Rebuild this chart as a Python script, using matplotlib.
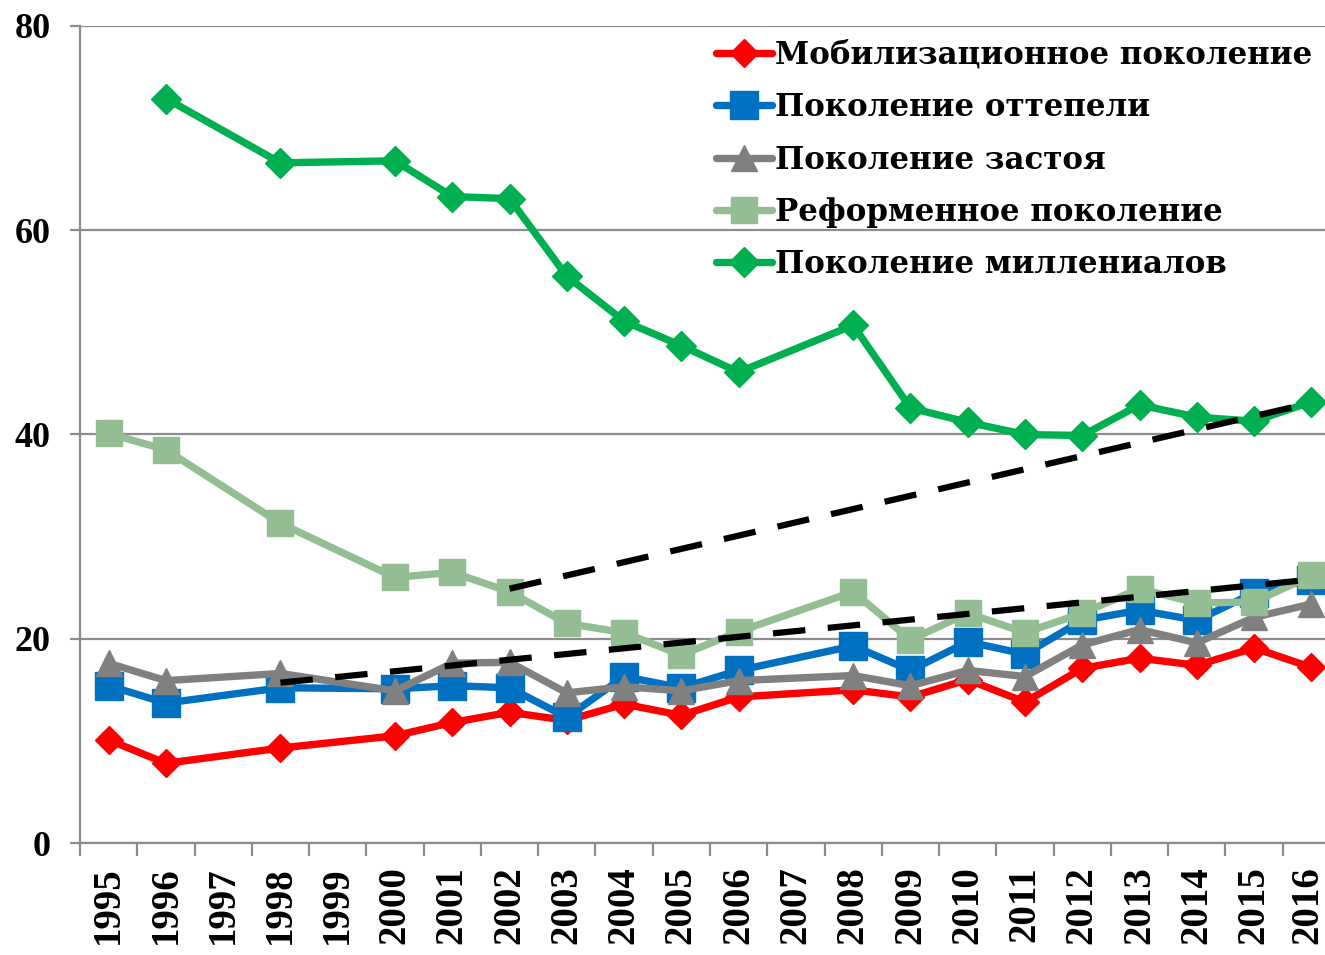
import matplotlib
matplotlib.use("Agg")
import matplotlib.pyplot as plt
import matplotlib.transforms as mtransforms
import numpy as np

categories = ["1995", "1996", "1997", "1998", "1999", "2000", "2001", "2002", "2003",
              "2004", "2005", "2006", "2007", "2008", "2009", "2010", "2011", "2012",
              "2013", "2014", "2015", "2016"]

data_years = ["1995", "1996", "1998", "2000", "2001", "2002", "2003", "2004", "2005",
              "2006", "2008", "2009", "2010", "2011", "2012", "2013", "2014", "2015", "2016"]

mobilization = [10.1, 7.8, 9.3, 10.5, 11.8, 12.8, 12.0, 13.6, 12.5, 14.3, 15.0, 14.3,
                16.0, 13.8, 17.1, 18.1, 17.4, 19.1, 17.2]
thaw = [15.4, 13.7, 15.2, 15.1, 15.4, 15.2, 12.3, 16.3, 15.2, 16.9, 19.3, 16.9,
        19.7, 18.5, 21.8, 22.8, 21.8, 24.5, 25.8]
stagnation = [17.6, 15.9, 16.6, 14.9, 17.6, 17.7, 14.7, 15.3, 14.9, 15.9, 16.4, 15.4,
              16.9, 16.3, 19.4, 20.9, 19.6, 22.1, 23.4]
reform = [40.1, 38.5, 31.3, 26.0, 26.5, 24.6, 21.5, 20.6, 18.4, 20.7, 24.6, 19.9,
          22.5, 20.6, 22.5, 24.9, 23.5, 23.6, 26.2]
millennials = [None, 72.9, 66.6, 66.8, 63.3, 63.1, 55.5, 51.1, 48.7, 46.1, 50.7, 42.6,
               41.2, 40.0, 39.9, 42.9, 41.7, 41.3, 43.2]

trend_upper_years = ["2002", "2016"]
trend_upper_values = [24.9, 43.1]
trend_lower_years = ["1998", "2016"]
trend_lower_values = [15.7, 25.8]

labels = ["Мобилизационное поколение", "Поколение оттепели", "Поколение застоя",
          "Реформенное поколение", "Поколение миллениалов"]

y_ticks = [0, 20, 40, 60, 80]

plt.rcParams['font.family'] = ['Liberation Serif', 'DejaVu Serif']
plt.rcParams['font.weight'] = 'bold'

fig = plt.figure(figsize=(13.25, 9.55), dpi=100)
ax = fig.add_axes([80 / 1325, 1 - 843 / 955, 1260 / 1325, (843 - 26) / 955])

def xs(years):
    return [categories.index(y) for y in years]

def clean(years, vals):
    pts = [(categories.index(y), v) for y, v in zip(years, vals) if v is not None]
    return [p[0] for p in pts], [p[1] for p in pts]

series = [
    (mobilization, "#FF0000", "D", 14, 1),
    (thaw, "#0070C0", "s", 19.5, 2),
    (stagnation, "#808080", "^", 19, 3),
    (reform, "#93BD93", "s", 19, 4),
    (millennials, "#00B050", "D", 15.5, 5),
]

handles = []
for (vals, col, mk, ms, z), lab in zip(series, labels):
    x, y = clean(data_years, vals)
    h, = ax.plot(x, y, color=col, lw=5.3, marker=mk, markersize=ms,
                 markerfacecolor=col, markeredgecolor=col, markeredgewidth=1,
                 solid_joinstyle='round', solid_capstyle='round', zorder=z, label=lab)
    handles.append(h)

for yrs, vals in [(trend_upper_years, trend_upper_values), (trend_lower_years, trend_lower_values)]:
    ax.plot(xs(yrs), vals, color="black", lw=4.5, dashes=(5.2, 3.6), zorder=6,
            dash_capstyle='butt')

ax.set_xlim(-0.5, len(categories) - 0.5)
ax.set_ylim(0, 80)
ax.set_yticks(y_ticks)
ax.set_yticklabels([str(t) for t in y_ticks], fontsize=26, fontweight='bold')
ax.yaxis.grid(True, color="#8C8C8C", lw=1.6)
ax.set_axisbelow(True)

ax.set_xticks(np.arange(len(categories)))
ax.set_xticklabels(categories, rotation=90, fontsize=28, fontweight='bold')
ax.set_xticks(np.arange(len(categories) + 1) - 0.5, minor=True)
ax.tick_params(axis='x', which='major', length=0, pad=17)
ax.tick_params(axis='x', which='minor', length=9, width=1.6, color="#8C8C8C")
ax.tick_params(axis='y', length=7, width=1.6, color="#8C8C8C", pad=14)

# nudge the last year label so it stays inside the image
last = ax.get_xticklabels()[-1]
last.set_transform(last.get_transform() +
                   mtransforms.ScaledTranslation(-3 / 100, 0, fig.dpi_scale_trans))

for s in ["top", "right"]:
    ax.spines[s].set_visible(False)
for s in ["left", "bottom"]:
    ax.spines[s].set_color("#8C8C8C")
    ax.spines[s].set_linewidth(1.6)

leg = fig.legend(handles=handles, loc="upper left", bbox_to_anchor=(716 / 1325, 1 - 40 / 955),
                 frameon=False, prop={'family': ['DejaVu Serif'], 'weight': 'bold', 'size': 22.2},
                 handlelength=1.82, handletextpad=0.1, labelspacing=0.69, borderaxespad=0,
                 borderpad=0)

fig.savefig("out.png", dpi=100)
